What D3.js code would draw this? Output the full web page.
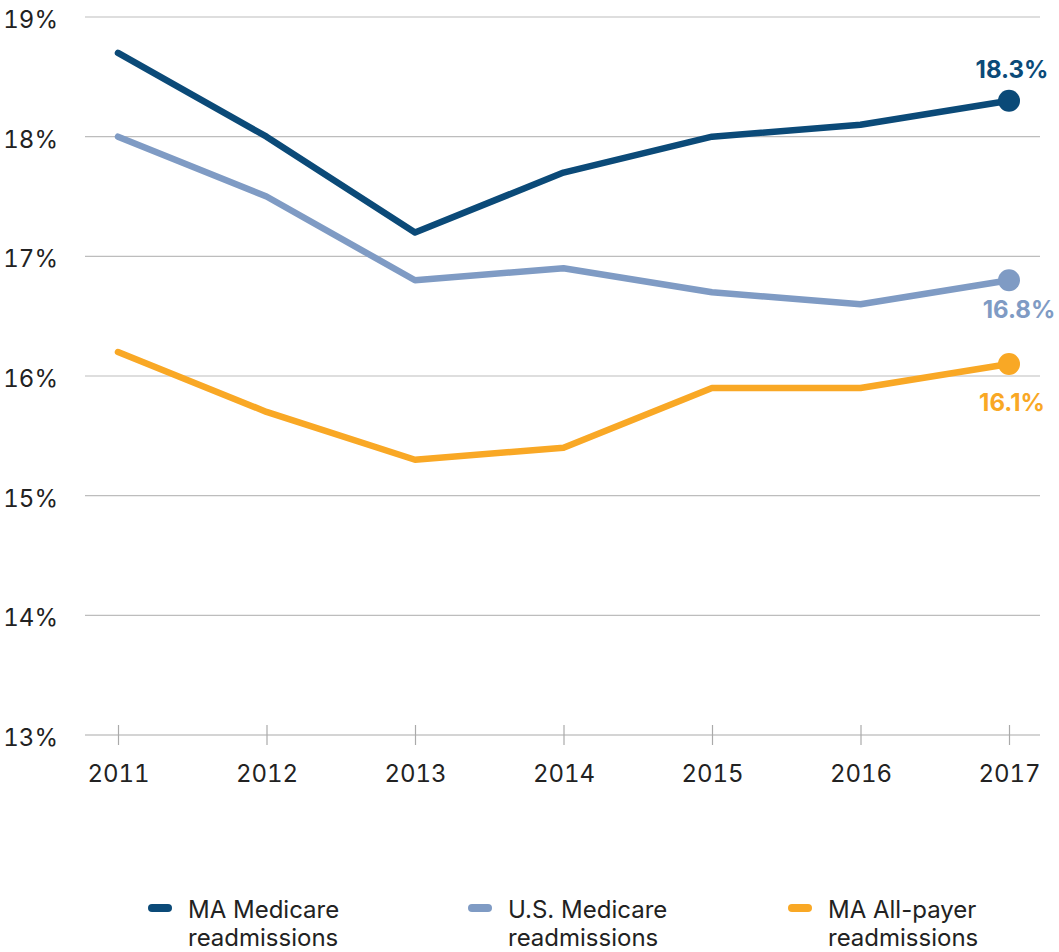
<!DOCTYPE html>
<html>
<head>
<meta charset="utf-8">
<script src="https://cdn.jsdelivr.net/npm/d3@7"></script>
<style>
  body { margin: 0; background: #fff; }
  text { font-family: Inter, "Noto Sans", sans-serif; }
  .num { font-variant-numeric: tabular-nums; }
</style>
</head>
<body>
<div class="chart"></div>
<script>
// data
var years = [2011, 2012, 2013, 2014, 2015, 2016, 2017];
var maMedicare = [18.7, 18.0, 17.2, 17.7, 18.0, 18.1, 18.3];
var usMedicare = [18.0, 17.5, 16.8, 16.9, 16.7, 16.6, 16.8];
var maAllPayer = [16.2, 15.7, 15.3, 15.4, 15.9, 15.9, 16.1];
var yTicks = [13, 14, 15, 16, 17, 18, 19];
var seriesNames = [["MA Medicare", "readmissions"], ["U.S. Medicare", "readmissions"], ["MA All-payer", "readmissions"]];

var colors = ["#0b4a78", "#7f9bc4", "#f9a825"];
var series = [maMedicare, usMedicare, maAllPayer];

var svgWidth = 1059, svgHeight = 952;

var svg = d3.select(".chart").append("svg")
  .attr("width", svgWidth)
  .attr("height", svgHeight);

var xScale = d3.scalePoint()
  .domain(years)
  .range([118, 1009]);

var yScale = d3.scaleLinear()
  .domain([13, 19])
  .range([735, 17]);

// gridlines
svg.append("g")
  .selectAll("line")
  .data(yTicks.filter(d => d > 13))
  .enter()
  .append("line")
  .attr("x1", 85)
  .attr("x2", 1040)
  .attr("y1", d => yScale(d))
  .attr("y2", d => yScale(d))
  .attr("stroke", "#bdbdbd")
  .attr("stroke-width", 1.2);

// y labels
svg.append("g")
  .selectAll("text")
  .data(yTicks)
  .enter()
  .append("text")
  .attr("class", "num")
  .attr("x", 58)
  .attr("y", d => yScale(d) + 11)
  .attr("text-anchor", "end")
  .attr("font-size", "24px")
  .attr("fill", "#222")
  .text(d => d + "%");

// x axis
var xAxis = d3.axisBottom(xScale).tickSize(10).tickSizeOuter(0).tickPadding(20);
var xg = svg.append("g")
  .attr("transform", "translate(0, 735)")
  .call(xAxis);
xg.select(".domain").remove();
xg.append("line")
  .attr("x1", 85).attr("x2", 1040)
  .attr("stroke", "#aaa").attr("stroke-width", 1.2);
xg.selectAll(".tick line")
  .attr("y1", -10)
  .attr("stroke", "#aaa")
  .attr("stroke-width", 1.2);
xg.selectAll(".tick text")
  .attr("class", "num")
  .attr("font-size", "24px")
  .attr("font-family", "Inter, sans-serif")
  .attr("fill", "#222");

// lines
var line = d3.line()
  .x((d, i) => xScale(years[i]))
  .y(d => yScale(d));

series.forEach(function(s, k) {
  svg.append("path")
    .datum(s)
    .attr("d", line)
    .attr("fill", "none")
    .attr("stroke", colors[k])
    .attr("stroke-width", 6.5)
    .attr("stroke-linecap", "round")
    .attr("stroke-linejoin", "round");

  var last = s.length - 1;
  svg.append("circle")
    .attr("cx", xScale(years[last]))
    .attr("cy", yScale(s[last]))
    .attr("r", 11)
    .attr("fill", colors[k]);
});

// end labels
var labelOffsets = [-23, 38, 47];
var labelDx = [3, 10, 3];
series.forEach(function(s, k) {
  var last = s.length - 1;
  svg.append("text")
    .attr("x", xScale(years[last]) + labelDx[k])
    .attr("y", yScale(s[last]) + labelOffsets[k])
    .attr("text-anchor", "middle")
    .attr("font-size", "24px")
    .attr("font-weight", "bold")
    .attr("fill", colors[k])
    .text(s[last].toFixed(1) + "%");
});

// legend
var legendX = [148, 468, 788];
seriesNames.forEach(function(name, k) {
  var g = svg.append("g").attr("transform", `translate(${legendX[k]}, 908)`);
  g.append("line")
    .attr("x1", 4).attr("x2", 20)
    .attr("y1", 0).attr("y2", 0)
    .attr("stroke", colors[k])
    .attr("stroke-width", 8)
    .attr("stroke-linecap", "round");
  g.append("text")
    .attr("x", 40)
    .attr("y", 10)
    .attr("font-size", "24px")
    .attr("fill", "#222")
    .text(name[0]);
  g.append("text")
    .attr("x", 40)
    .attr("y", 38)
    .attr("font-size", "24px")
    .attr("fill", "#222")
    .text(name[1]);
});
</script>
</body>
</html>
